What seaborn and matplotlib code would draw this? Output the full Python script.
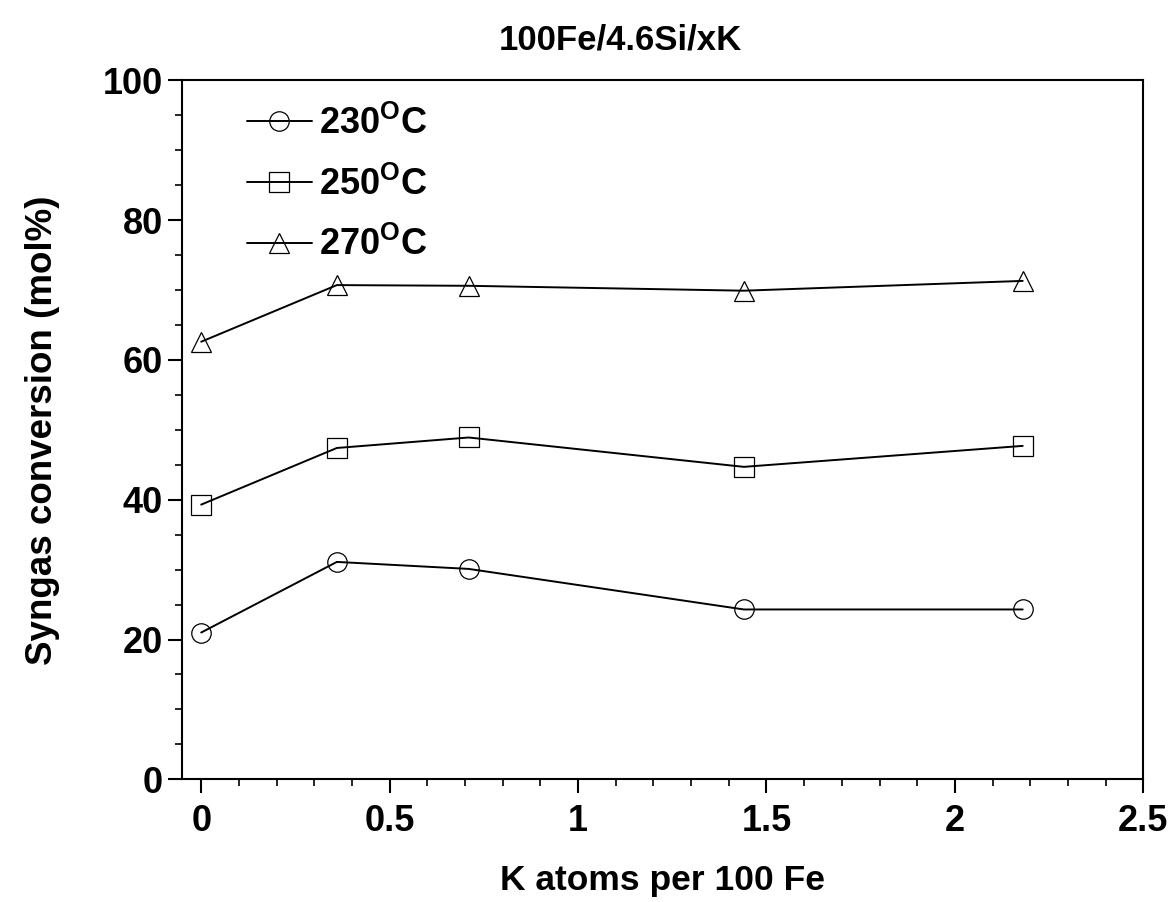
import seaborn as sns
import pandas as pd
import matplotlib.pyplot as plt
from matplotlib.ticker import MultipleLocator

k_atoms = [0, 0.36, 0.71, 1.44, 2.18]
conv_230 = [21.0, 31.1, 30.1, 24.3, 24.3]
conv_250 = [39.3, 47.4, 48.9, 44.7, 47.7]
conv_270 = [62.6, 70.7, 70.6, 69.9, 71.3]
labels = [r'230$^{\mathbf{O}}$C', r'250$^{\mathbf{O}}$C', r'270$^{\mathbf{O}}$C']

rows = []
for lab, vals in zip(labels, [conv_230, conv_250, conv_270]):
    for k, v in zip(k_atoms, vals):
        rows.append({'k': k, 'conv': v, 'temp': lab})
df = pd.DataFrame(rows)

sns.set_style('ticks')
plt.rcParams['font.family'] = ['Liberation Sans', 'DejaVu Sans']
plt.rcParams['font.weight'] = 'bold'
plt.rcParams['mathtext.fontset'] = 'custom'
plt.rcParams['mathtext.bf'] = 'Liberation Sans:bold'
plt.rcParams['mathtext.rm'] = 'Liberation Sans:bold'
# pure black everything, seaborn defaults to dark grey
for key in ['text.color', 'axes.labelcolor', 'xtick.color', 'ytick.color', 'axes.edgecolor']:
    plt.rcParams[key] = 'black'

fig = plt.figure(figsize=(11.69, 9.02), dpi=100)
ax = fig.add_axes([0.156, 0.136, 0.822, 0.775])

ax = sns.lineplot(data=df, x='k', y='conv', style='temp', markers=['o', 's', '^'],
                  dashes=False, color='black', linewidth=1.4, markersize=14,
                  markerfacecolor='none', markeredgecolor='black', markeredgewidth=0.9,
                  ax=ax)

ax.set_xlim(-0.05, 2.5)
ax.set_ylim(0, 100)
ax.xaxis.set_major_locator(MultipleLocator(0.5))
ax.xaxis.set_minor_locator(MultipleLocator(0.1))
ax.yaxis.set_major_locator(MultipleLocator(20))
ax.yaxis.set_minor_locator(MultipleLocator(5))
ax.set_xticks([0, 0.5, 1, 1.5, 2, 2.5])
ax.set_xticklabels(['0', '0.5', '1', '1.5', '2', '2.5'])
ax.tick_params(which='major', direction='out', length=10, width=1.5, labelsize=26)
ax.tick_params(axis='x', which='major', pad=8)
ax.tick_params(axis='y', which='major', pad=4)
ax.tick_params(which='minor', direction='out', length=5, width=1.2)
for s in ax.spines.values():
    s.set_linewidth(1.5)

ax.set_xlabel('K atoms per 100 Fe', fontsize=25.5, fontweight='bold', va='center')
ax.xaxis.set_label_coords(0.5, -0.1445)
ax.set_ylabel('Syngas conversion (mol%)', fontsize=26.5, fontweight='bold', va='center')
ax.yaxis.set_label_coords(-0.146, 0.5)
fig.text(0.531, 0.956, '100Fe/4.6Si/xK', fontsize=25, fontweight='bold',
         ha='center', va='center')

leg = ax.legend(loc='upper left', frameon=False, fontsize=26, handlelength=1.8,
                handletextpad=0.2, labelspacing=0.68, bbox_to_anchor=(0.033, 1.01))
for h in leg.legend_handles:
    h.set_markerfacecolor('none')

fig.savefig('out.png', dpi=100)
